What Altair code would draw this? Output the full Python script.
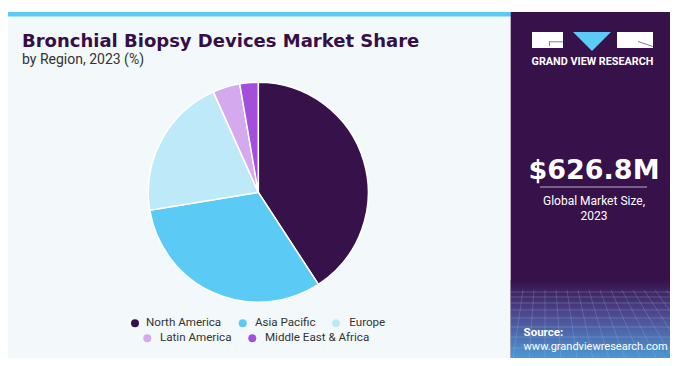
import altair as alt
import pandas as pd

# ---- data ----
regions = ["North America", "Asia Pacific", "Europe", "Latin America", "Middle East & Africa"]
shares = [40.8, 31.6, 20.9, 4.0, 2.7]
colors = ["#37114A", "#5BCBF5", "#BEE9F9", "#D5A9EE", "#A34FD9"]

title = "Bronchial Biopsy Devices Market Share"
subtitle = "by Region, 2023 (%)"
market_size = "$626.8M"
market_label = ["Global Market Size,", "2023"]
brand = "GRAND VIEW RESEARCH"
source_lines = ["Source:", "www.grandviewresearch.com"]

pie_df = pd.DataFrame({"region": regions, "share": shares, "idx": list(range(len(regions)))})

# legend layout (pixel positions, separate from values)
leg_dot_x = [127, 234.7, 328, 139.3, 244.3]
leg_txt_x = [138, 247, 341.3, 152, 257]
leg_y = [315.3, 315.3, 315.3, 330.3, 330.3]
legend_df = pd.DataFrame({"region": regions, "dx": leg_dot_x, "tx": leg_txt_x, "ly": leg_y})

# decorative perspective grid in the sidebar (layout only)
grid_h_y = [284, 289, 295, 302, 310, 319, 329, 340]
grid_v_top = [515, 526, 537, 548, 559, 570, 581, 592, 603, 614, 625, 636, 647, 658]
grid_v_bot = [505, 521, 537, 553, 569, 585, 601, 617, 633, 649, 665, 681, 697, 713]
grid_h_df = pd.DataFrame({"y": grid_h_y})
grid_v_df = pd.DataFrame({"x": grid_v_top, "x2": grid_v_bot})

one = pd.DataFrame({"a": [0]})
color_scale = alt.Scale(domain=regions, range=colors)

PURPLE = "#37114A"
FONT = "Roboto"
WIDE = "DejaVu Sans"


def rect(x, x2, y, y2, **kw):
    return alt.Chart(one).mark_rect(**kw).encode(
        x=alt.value(x), x2=alt.value(x2), y=alt.value(y), y2=alt.value(y2)
    )


def txt(s, x, y, font=FONT, **kw):
    return alt.Chart(one).mark_text(text=s, font=font, **kw).encode(
        x=alt.value(x), y=alt.value(y)
    )


layers = []
# card shadow
layers.append(rect(-2, 666, 5, 352, color="#D6D9DD", cornerRadius=5))
# left panel
layers.append(rect(-3, 506, 4, 351, color="#F3F8FB", cornerRadius=5))
# top strip
layers.append(rect(-3, 506, 4, 8.5, color="#5BCBF5", cornerRadiusTopLeft=5))
# right panel
layers.append(rect(502.7, 665.3, 4, 351, color=PURPLE, cornerRadiusTopRight=5, cornerRadiusBottomRight=5))
# right panel bottom gradient
grad = alt.LinearGradient(
    gradient="linear", x1=0, x2=0, y1=0, y2=1,
    stops=[alt.GradientStop(color="#37114A", offset=0),
           alt.GradientStop(color="#4E4A92", offset=0.45),
           alt.GradientStop(color="#4C9AD6", offset=1)],
)
layers.append(rect(502.7, 665.3, 272, 351, color=grad, cornerRadiusBottomRight=5))

# faint grid over gradient
layers.append(alt.Chart(grid_h_df).mark_rule(color="#9FC3EE", opacity=0.35, strokeWidth=0.8).encode(
    y=alt.Y("y:Q", scale=None), x=alt.value(502.7), x2=alt.value(662)))
layers.append(alt.Chart(grid_v_df).mark_rule(color="#9FC3EE", opacity=0.3, strokeWidth=0.8).encode(
    x=alt.X("x:Q", scale=None), x2=alt.X2("x2:Q"), y=alt.value(282), y2=alt.value(351)))

# logo
layers.append(rect(524, 555, 24, 40, color="white"))
layers.append(rect(541, 555, 33.3, 34.3, color="#8A7A99"))
layers.append(rect(541, 542, 33.3, 38, color="#8A7A99"))
layers.append(rect(609, 645, 24, 40, color="white"))
layers.append(alt.Chart(one).mark_rule(color="#8A7A99", strokeWidth=1).encode(
    x=alt.value(630), x2=alt.value(645), y=alt.value(33.5), y2=alt.value(38.5)))
layers.append(alt.Chart(one).mark_point(shape="M-1,-0.5L1,-0.5L0,0.5Z", filled=True, color="#5BCBF5",
                                        size=1444, opacity=1, strokeWidth=0).encode(
    x=alt.value(584), y=alt.value(33.5)))
layers.append(txt(brand, 584.5, 53.7, fontSize=10.8, fontWeight="bold", color="white", align="center", baseline="middle"))

# market size
layers.append(txt(market_size, 586, 171, font=WIDE, fontSize=27, fontWeight="bold", color="white", align="center", baseline="alphabetic"))
layers.append(rect(532, 639, 178.5, 179.5, color="#B9AFC2"))
layers.append(txt(market_label[0], 586, 192.7, fontSize=12, color="white", align="center", baseline="middle"))
layers.append(txt(market_label[1], 586, 207.5, fontSize=12, color="white", align="center", baseline="middle"))

# source
layers.append(txt(source_lines[0], 515.6, 325, fontSize=11.5, fontWeight="bold", color="white", align="left", baseline="middle"))
layers.append(txt(source_lines[1], 515.6, 338.5, fontSize=11, color="white", align="left", baseline="middle"))

# title
layers.append(txt(title, 14, 38.7, font=WIDE, fontSize=18, fontWeight="bold", color="#350F48", align="left", baseline="alphabetic"))
layers.append(txt(subtitle, 14, 56.3, fontSize=14, color="#333333", align="left", baseline="alphabetic"))

# pie
pie = alt.Chart(pie_df).mark_arc(radius=110, stroke="white", strokeWidth=1.5).encode(
    theta=alt.Theta("share:Q", stack=True),
    color=alt.Color("region:N", scale=color_scale, legend=None),
    order=alt.Order("idx:Q"),
    x=alt.value(250.3),
    y=alt.value(184.3),
)
layers.append(pie)

# legend
leg_dots = alt.Chart(legend_df).mark_circle(size=64, opacity=1).encode(
    x=alt.X("dx:Q", scale=None),
    y=alt.Y("ly:Q", scale=None),
    color=alt.Color("region:N", scale=color_scale, legend=None),
)
leg_text = alt.Chart(legend_df).mark_text(font=FONT, fontSize=11.6, color="#333333", align="left", baseline="middle").encode(
    x=alt.X("tx:Q", scale=None),
    y=alt.Y("ly:Q", scale=None),
    text="region:N",
)
layers += [leg_dots, leg_text]

chart = alt.layer(*layers).properties(
    width=662, height=350,
    autosize=alt.AutoSizeParams(type="none"),
    padding=0,
    background="white",
).configure_view(stroke=None)

chart.save("out.html", embed_options={"renderer": "svg", "actions": False})
